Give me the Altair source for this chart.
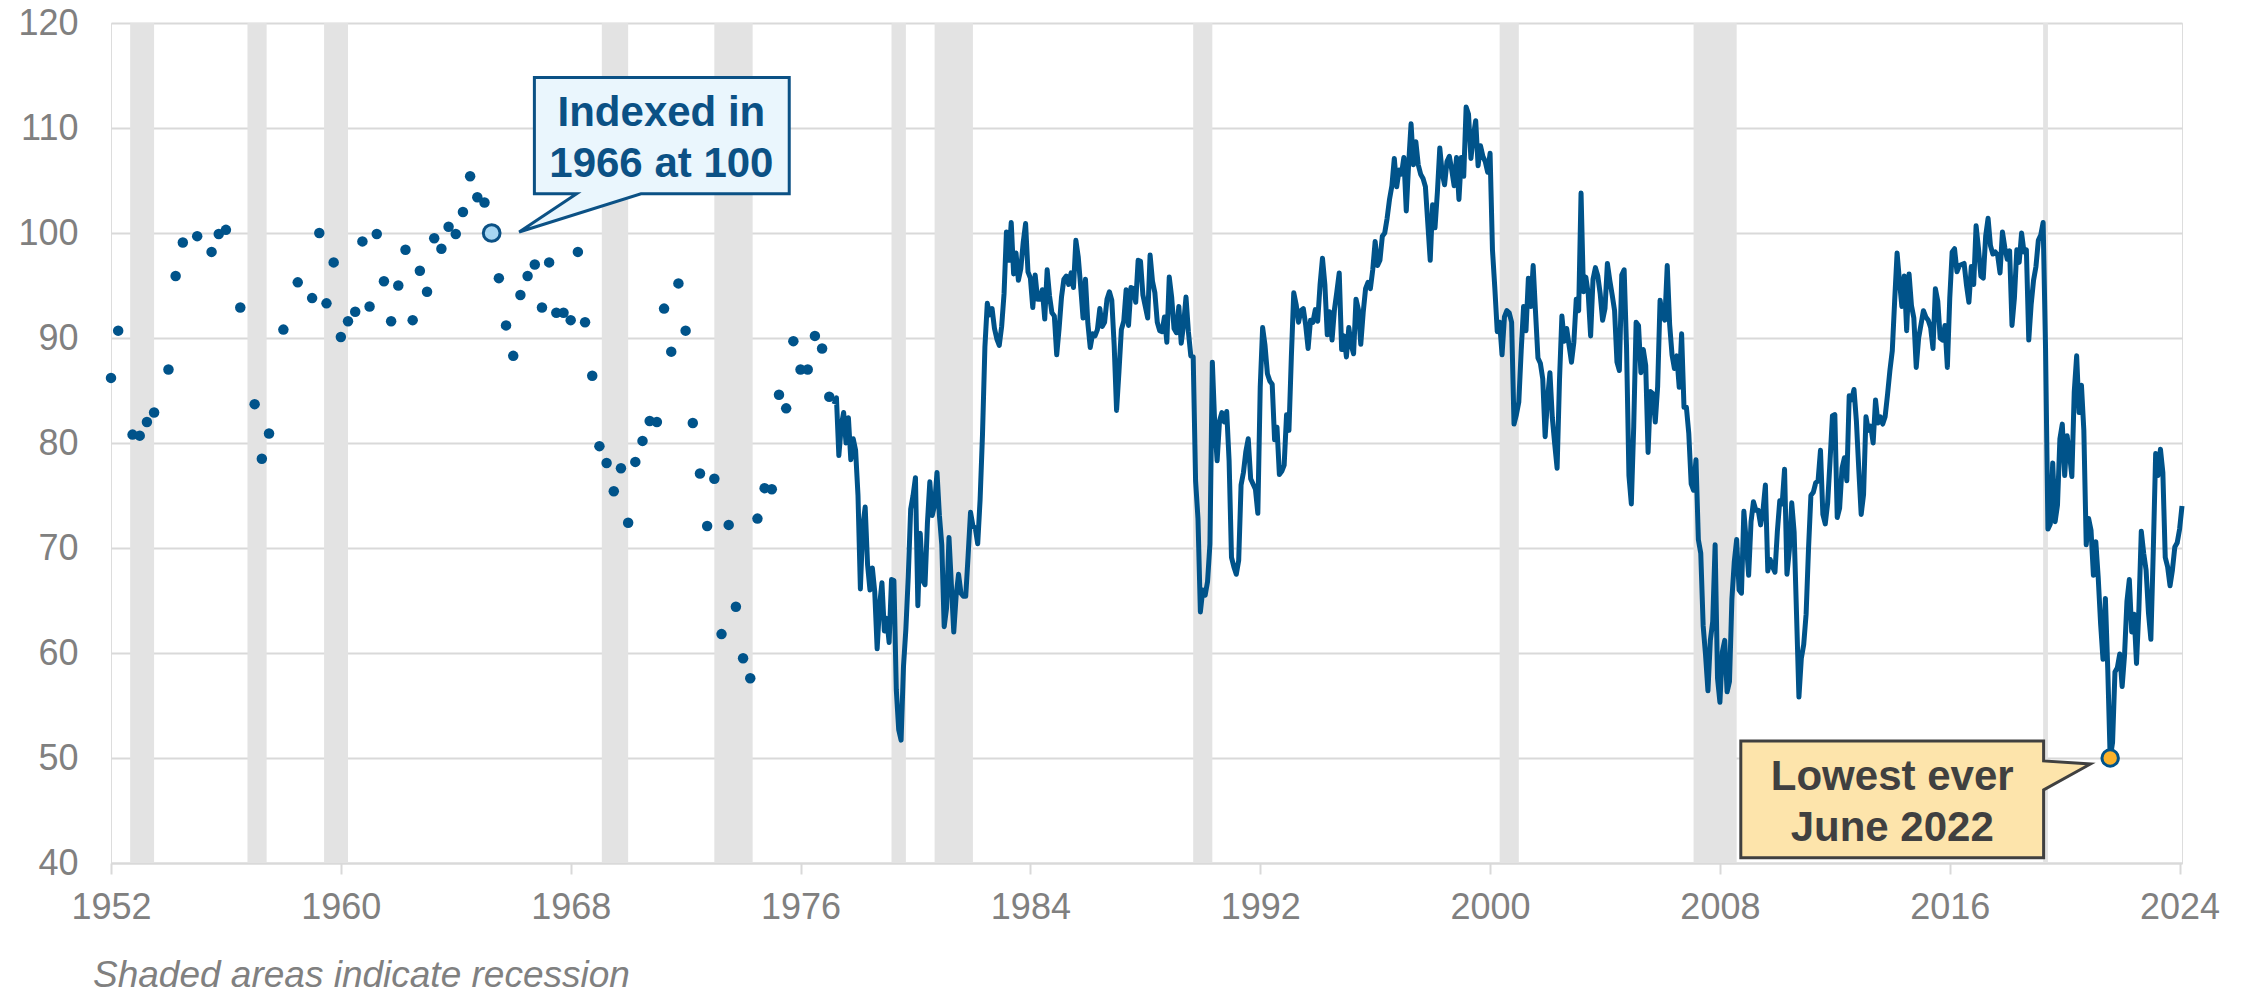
import altair as alt
import pandas as pd

# ---------------- data ----------------
# early (quarterly / irregular) survey readings, shown as dots
early_dates = ["1952-11", "1953-02", "1953-08", "1953-11", "1954-02", "1954-05", "1954-11",
               "1955-02", "1955-05", "1955-11", "1956-05", "1956-08", "1956-11", "1957-05",
               "1957-11", "1958-02", "1958-05", "1958-11", "1959-05", "1959-11", "1960-02",
               "1960-05", "1960-08", "1960-11", "1961-02", "1961-05", "1961-08", "1961-11",
               "1962-02", "1962-05", "1962-08", "1962-11", "1963-02", "1963-05", "1963-08",
               "1963-11", "1964-02", "1964-05", "1964-08", "1964-11", "1965-02", "1965-05",
               "1965-08", "1965-11", "1966-02", "1966-05", "1966-08", "1966-11", "1967-02",
               "1967-05", "1967-08", "1967-11", "1968-02", "1968-05", "1968-08", "1968-11",
               "1969-02", "1969-05", "1969-08", "1969-11", "1970-02", "1970-05", "1970-08",
               "1970-11", "1971-02", "1971-05", "1971-08", "1971-11", "1972-02", "1972-05",
               "1972-08", "1972-11", "1973-02", "1973-05", "1973-08", "1973-11", "1974-02",
               "1974-05", "1974-08", "1974-11", "1975-02", "1975-05", "1975-08", "1975-11",
               "1976-02", "1976-05", "1976-08", "1976-11", "1977-02", "1977-05", "1977-08",
               "1977-11"]
early_values = [86.2, 90.7, 80.8, 80.7, 82.0, 82.9, 87.0,
                95.9, 99.1, 99.7, 98.2, 99.9, 100.3, 92.9,
                83.7, 78.5, 80.9, 90.8, 95.3, 93.8, 100.0,
                93.3, 97.2, 90.1, 91.6, 92.5, 99.2, 93.0,
                99.9, 95.4, 91.6, 95.0, 98.4, 91.7, 96.4,
                94.4, 99.5, 98.5, 100.6, 99.9, 102.0, 105.4,
                103.4, 102.9, 100.0, 95.7, 91.2, 88.3, 94.1,
                95.9, 97.0, 92.9, 97.2, 92.4, 92.4, 91.7,
                98.2, 91.5, 86.4, 79.7, 78.1, 75.4, 77.6,
                72.4, 78.2, 80.2, 82.1, 82.0, 92.8, 88.7,
                95.2, 90.7, 81.9, 77.1, 72.1, 76.6, 61.8,
                72.2, 64.4, 59.5, 57.6, 72.8, 75.7, 75.6,
                84.6, 83.3, 89.7, 87.0, 87.0, 90.2, 89.0,
                84.4]

# monthly readings from January 1978, shown as a line
monthly_start_year = 1978
m1978_1987 = [
    83.7, 84.3, 78.8, 81.6, 82.9, 80.0, 82.4, 78.4, 80.4, 79.3, 75.0, 66.1,
    72.1, 73.9, 68.4, 66.0, 68.1, 65.8, 60.4, 64.5, 66.7, 62.1, 63.3, 61.0,
    67.0, 66.9, 56.5, 52.7, 51.7, 58.7, 62.3, 67.3, 73.7, 75.0, 76.7, 64.5,
    71.4, 66.9, 66.5, 72.4, 76.3, 73.1, 74.1, 77.2, 73.1, 70.3, 62.5, 64.3,
    71.0, 66.5, 62.0, 65.5, 67.5, 65.7, 65.4, 65.4, 69.3, 73.4, 72.1, 71.9,
    70.4, 74.6, 80.8, 89.1, 93.3, 92.2, 92.8, 90.9, 89.9, 89.3, 91.1, 94.2,
    100.1, 97.4, 101.0, 96.1, 98.1, 95.5, 96.6, 99.1, 100.9, 96.3, 95.7, 92.9,
    96.0, 93.7, 93.7, 94.6, 91.8, 96.5, 94.0, 92.4, 92.1, 88.4, 90.9, 93.9,
    95.6, 95.9, 95.1, 96.2, 94.8, 99.3, 97.7, 94.9, 91.9, 95.6, 91.4, 89.1,
    90.4, 90.2, 90.8, 92.8, 91.1, 91.5, 93.7, 94.4, 93.6, 89.3, 83.1, 86.8]
m1988_1997 = [
    90.8, 91.6, 94.6, 91.2, 94.8, 94.7, 93.4, 97.4, 97.3, 94.1, 93.0, 91.9,
    97.9, 95.4, 94.3, 91.5, 90.7, 90.6, 92.0, 89.6, 95.8, 93.9, 90.9, 90.5,
    93.0, 89.5, 91.3, 93.9, 90.6, 88.3, 88.2, 76.4, 72.8, 63.9, 66.0, 65.5,
    66.8, 70.4, 87.7, 81.8, 78.3, 82.1, 82.9, 82.0, 83.0, 78.3, 69.1, 68.2,
    67.5, 68.8, 76.0, 77.2, 79.2, 80.4, 76.6, 76.1, 75.6, 73.3, 85.3, 91.0,
    89.3, 86.6, 85.9, 85.6, 80.3, 81.5, 77.0, 77.3, 77.9, 82.7, 81.2, 88.2,
    94.3, 93.2, 91.5, 92.6, 92.8, 91.2, 89.0, 91.7, 91.5, 92.7, 91.6, 95.1,
    97.6, 95.1, 90.3, 92.5, 89.8, 92.7, 94.4, 96.2, 88.9, 90.2, 88.2, 91.0,
    89.3, 88.5, 93.7, 92.7, 89.4, 92.4, 94.7, 95.3, 94.7, 96.5, 99.2, 96.9,
    97.4, 99.7, 100.0, 101.4, 103.2, 104.5, 107.1, 104.4, 106.0, 105.6, 107.2, 102.1]
m1998_2007 = [
    106.6, 110.4, 106.5, 108.7, 106.5, 105.6, 105.2, 104.4, 100.9, 97.4, 102.7, 100.5,
    103.9, 108.1, 105.7, 104.6, 106.8, 107.3, 106.0, 104.5, 107.2, 103.2, 107.2, 105.4,
    112.0, 111.3, 107.1, 109.2, 110.7, 106.4, 108.3, 107.3, 106.8, 105.8, 107.6, 98.4,
    94.7, 90.6, 91.5, 88.4, 92.0, 92.6, 92.4, 91.5, 81.8, 82.7, 83.9, 88.8,
    93.0, 90.7, 95.7, 93.0, 96.9, 92.4, 88.1, 87.6, 86.1, 80.6, 84.2, 86.7,
    82.4, 79.9, 77.6, 86.0, 92.1, 89.7, 90.9, 89.3, 87.7, 89.6, 93.7, 92.6,
    103.8, 94.4, 95.8, 94.2, 90.2, 95.6, 96.7, 95.9, 94.2, 91.7, 92.8, 97.1,
    95.5, 94.1, 92.6, 87.7, 86.9, 96.0, 96.5, 89.1, 76.9, 74.2, 81.6, 91.5,
    91.2, 86.7, 88.9, 87.4, 79.1, 84.9, 84.7, 82.0, 85.4, 93.6, 92.1, 91.7,
    96.9, 91.3, 88.4, 87.1, 88.3, 85.3, 90.4, 83.4, 83.4, 80.9, 76.1, 75.5]
m2008_2017 = [
    78.4, 70.8, 69.5, 62.6, 59.8, 56.4, 61.2, 63.0, 70.3, 57.6, 55.3, 60.1,
    61.2, 56.3, 57.3, 65.1, 68.7, 70.8, 66.0, 65.7, 73.5, 70.6, 67.4, 72.5,
    74.4, 73.6, 73.6, 72.2, 73.6, 76.0, 67.8, 68.9, 68.2, 67.7, 71.6, 74.5,
    74.2, 77.5, 67.5, 69.8, 74.3, 71.5, 63.7, 55.8, 59.5, 60.8, 63.7, 69.9,
    75.0, 75.3, 76.2, 76.4, 79.3, 73.2, 72.3, 74.3, 78.3, 82.6, 82.7, 72.9,
    73.8, 77.6, 78.6, 76.4, 84.5, 84.1, 85.1, 82.1, 77.5, 73.2, 75.1, 82.5,
    81.2, 81.6, 80.0, 84.1, 81.9, 82.5, 81.8, 82.5, 84.6, 86.9, 88.8, 93.6,
    98.1, 95.4, 93.0, 95.9, 90.7, 96.1, 93.1, 91.9, 87.2, 90.0, 91.3, 92.6,
    92.0, 91.7, 91.0, 89.0, 94.7, 93.5, 90.0, 89.8, 91.2, 87.2, 93.8, 98.2,
    98.5, 96.3, 96.9, 97.0, 97.1, 95.0, 93.4, 96.8, 95.1, 100.7, 98.5, 95.9]
m2018_2024 = [
    95.7, 99.7, 101.4, 98.8, 98.0, 98.2, 97.9, 96.2, 100.1, 98.6, 97.5, 98.3,
    91.2, 93.8, 98.4, 97.2, 100.0, 98.2, 98.4, 89.8, 93.2, 95.5, 96.8, 99.3,
    99.8, 101.0, 89.1, 71.8, 72.3, 78.1, 72.5, 74.1, 80.4, 81.8, 76.9, 80.7,
    79.0, 76.8, 84.9, 88.3, 82.9, 85.5, 81.2, 70.3, 72.8, 71.7, 67.4, 70.6,
    67.2, 62.8, 59.4, 65.2, 58.4, 50.0, 51.5, 58.2, 58.6, 59.9, 56.8, 59.8,
    64.9, 67.0, 62.0, 63.7, 59.0, 64.2, 71.6, 69.5, 67.9, 63.8, 61.3, 69.7,
    79.0, 76.9, 79.4, 77.2, 69.1, 68.2, 66.4, 67.9, 70.1, 70.5, 71.8, 74.0]

# NBER recessions (peak month, trough month)
rec_start = ["1953-07", "1957-08", "1960-04", "1969-12", "1973-11", "1980-01",
             "1981-07", "1990-07", "2001-03", "2007-12", "2020-02"]
rec_end = ["1954-05", "1958-04", "1961-02", "1970-11", "1975-03", "1980-07",
           "1982-11", "1991-03", "2001-11", "2009-06", "2020-04"]

# highlighted points
index_point = ("1966-02", 100.0)
low_point = ("2022-06", 50.0)

# callout boxes (outline vertices, in year / index units)
call1_x = [1967.57, 1976.44, 1976.44, 1971.28, 1967.04, 1969.04, 1967.57]
call1_y = [114.82, 114.82, 103.74, 103.74, 100.1, 103.74, 103.74]
call1_text = ["Indexed in", "1966 at 100"]
call1_tx = [1971.99, 1971.99]
call1_ty = [110.15, 105.33]

call2_x = [2009.56, 2020.10, 2020.10, 2021.73, 2020.10, 2020.10, 2009.56]
call2_y = [51.62, 51.62, 49.72, 49.43, 46.96, 40.49, 40.49]
call2_text = ["Lowest ever", "June 2022"]
call2_tx = [2014.83, 2014.83]
call2_ty = [46.96, 42.14]

caption = ["Shaded areas indicate recession"]


# ---------------- helpers ----------------
def ym(s):
    y, m = s.split("-")
    return int(y) + (int(m) - 1) / 12.0


monthly_vals = m1978_1987 + m1988_1997 + m1998_2007 + m2008_2017 + m2018_2024
monthly_x = [monthly_start_year + i / 12.0 for i in range(len(monthly_vals))]

df_early = pd.DataFrame({"x": [ym(d) for d in early_dates], "y": early_values})
df_line = pd.DataFrame({"x": monthly_x, "y": monthly_vals})
df_rec = pd.DataFrame({"start": [ym(d) for d in rec_start], "end": [ym(d) for d in rec_end]})
df_idx = pd.DataFrame({"x": [ym(index_point[0])], "y": [index_point[1]]})
df_low = pd.DataFrame({"x": [ym(low_point[0])], "y": [low_point[1]]})
df_c1 = pd.DataFrame({"x": call1_x, "y": call1_y, "o": list(range(len(call1_x)))})
df_c2 = pd.DataFrame({"x": call2_x, "y": call2_y, "o": list(range(len(call2_x)))})
df_t1 = pd.DataFrame({"x": call1_tx, "y": call1_ty, "t": call1_text})
df_t2 = pd.DataFrame({"x": call2_tx, "y": call2_ty, "t": call2_text})
df_cap = pd.DataFrame({"t": caption})

# ---------------- styles ----------------
FONT = "Liberation Sans, Arial, sans-serif"
BLUE = "#00538A"
GRID = "#D9D9D9"
LABEL = "#808080"

x0 = ym("1952-11")
x1 = ym("2024-12")
xscale = alt.Scale(domain=[x0, x1], nice=False, zero=False)
yscale = alt.Scale(domain=[40, 120], nice=False, zero=False)

xaxis = alt.Axis(values=[x0 + 8 * k for k in range(10)], labelExpr="floor(datum.value)",
                 grid=False, domain=True, domainColor=GRID, domainWidth=2,
                 ticks=True, tickColor=GRID, tickWidth=2, tickSize=11,
                 labelPadding=16, labelFont=FONT, labelFontSize=36, labelColor=LABEL,
                 labelFlush=False, labelOverlap=False, title=None)
yaxis = alt.Axis(values=list(range(40, 121, 10)), grid=True, gridColor=GRID, gridWidth=2,
                 domain=False, ticks=False, labelPadding=33, labelFont=FONT,
                 labelFontSize=36, labelColor=LABEL, title=None)

X = alt.X("x:Q", scale=xscale, axis=xaxis, title=None)
Y = alt.Y("y:Q", scale=yscale, axis=yaxis, title=None)

bands = alt.Chart(df_rec).mark_rect(color="#E3E3E3").encode(
    x=alt.X("start:Q", scale=xscale, axis=xaxis, title=None),
    x2="end:Q",
)

line = alt.Chart(df_line).mark_line(color=BLUE, strokeWidth=5, strokeJoin="round").encode(x=X, y=Y)

dots = alt.Chart(df_early).mark_circle(color=BLUE, size=110, opacity=1).encode(x=X, y=Y)

box1 = alt.Chart(df_c1).mark_line(
    fill="#EAF6FD", stroke="#0B5185", strokeWidth=3, interpolate="linear-closed",
    strokeJoin="miter").encode(x=X, y=Y, order="o:Q")
box2 = alt.Chart(df_c2).mark_line(
    fill="#FDE4AB", stroke="#404040", strokeWidth=3, interpolate="linear-closed",
    strokeJoin="miter").encode(x=X, y=Y, order="o:Q")

idx_dot = alt.Chart(df_idx).mark_point(
    filled=True, fill="#A7D6F2", stroke="#0B5185", strokeWidth=3, size=280, opacity=1,
    shape="circle").encode(x=X, y=Y)
low_dot = alt.Chart(df_low).mark_point(
    filled=True, fill="#FBB22B", stroke=BLUE, strokeWidth=3, size=270, opacity=1,
    shape="circle").encode(x=X, y=Y)

txt1 = alt.Chart(df_t1).mark_text(
    font=FONT, fontSize=42, fontWeight="bold", color="#0B5185", align="center",
    baseline="alphabetic").encode(x=X, y=Y, text="t:N")
txt2 = alt.Chart(df_t2).mark_text(
    font=FONT, fontSize=42, fontWeight="bold", color="#404040", align="center",
    baseline="alphabetic").encode(x=X, y=Y, text="t:N")

cap = alt.Chart(df_cap).mark_text(
    font=FONT, fontSize=37, fontStyle="italic", color=LABEL, align="left",
    baseline="alphabetic").encode(x=alt.value(-18), y=alt.value(964), text="t:N")

chart = alt.layer(bands, line, dots, box1, box2, idx_dot, low_dot, txt1, txt2, cap).properties(
    width=2071, height=840,
    autosize=alt.AutoSizeParams(type="none"),
    padding={"left": 103, "top": 15, "right": 42, "bottom": 125},
).configure_view(stroke=None).configure(background="white")

chart.save("out.html", embed_options={"renderer": "svg", "actions": False})
